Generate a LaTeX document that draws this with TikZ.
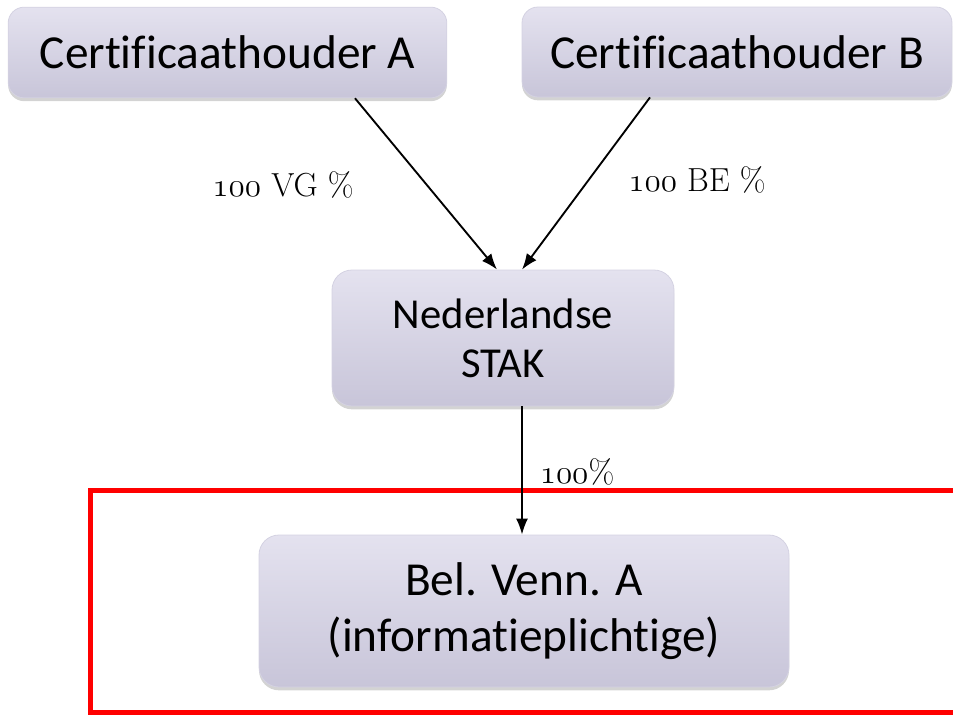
\documentclass[tikz,border=0pt]{standalone}
\usepackage{fontspec}
\usepackage{xcolor}
\usetikzlibrary{arrows.meta,shadows}
\newfontfamily\boxfont[Ligatures={NoCommon,NoDiscretionary,NoRare}]{Carlito}
\newcommand{\onum}[1]{{\usefont{OML}{cmm}{m}{it}#1}}
\definecolor{boxtop}{HTML}{E4E2EF}
\definecolor{boxbot}{HTML}{C8C5D9}
\definecolor{boxline}{HTML}{D4D2E2}

\begin{document}
\begin{tikzpicture}[x=0.75pt, y=-0.75pt,
  entity/.style={draw=boxline, line width=0.6pt, rounded corners=12pt, top color=boxtop, bottom color=boxbot,
    drop shadow={opacity=0.35, shadow xshift=0pt, shadow yshift=-2.5pt},
    align=center, inner sep=0pt, font=\boxfont},
  share/.style={font=\fontsize{25}{30}\selectfont},
  owns/.style={line width=1.4pt, -{Latex[length=12pt,width=9pt]}}]
\useasboundingbox (0,0) rectangle (953,715);
\node[entity, minimum width=329pt, minimum height=68pt, font=\boxfont\fontsize{35.5}{42}\selectfont] (ca) at (227.5,52.5) {Certificaathouder A};
\node[entity, minimum width=322.5pt, minimum height=67.5pt, font=\boxfont\fontsize{35.5}{42}\selectfont] (cb) at (737,52) {Certificaathouder B};
\node[entity, minimum width=256.5pt, minimum height=102pt, rounded corners=15pt, font=\boxfont\fontsize{32}{37}\selectfont] (stak) at (503,338) {Nederlandse\\STAK};
\node[entity, minimum width=397.5pt, minimum height=114pt, rounded corners=15pt, font=\boxfont\fontsize{35.5}{42}\selectfont] (bel) at (524,611) {Bel. Venn. A\\(informatieplichtige)};
\draw[red, line width=3.75pt] (953,490) -- (90,490) -- (90,712.5) -- (953,712.5);
\draw[owns] ([xshift=95.6pt]ca.south) -- ([xshift=-4.5pt]stak.north);
\draw[owns] ([xshift=-65.25pt]cb.south) -- ([xshift=14.25pt]stak.north);
\draw[owns] ([xshift=14.25pt]stak.south) -- ([xshift=14.25pt]stak.south |- bel.north);
\node[share] (vg) at (283,185) {\onum{100} VG \%};
\node[share] (be) at (697,180) {\onum{100} BE \%};
\node[share] (pct) at (577,472) {\onum{100}\%};
\end{tikzpicture}
\end{document}
